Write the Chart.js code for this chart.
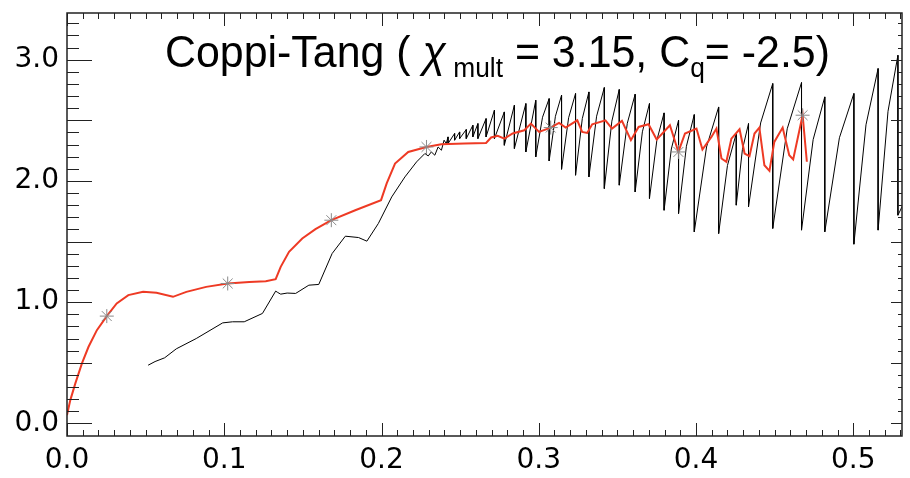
<!DOCTYPE html>
<html>
<head>
<meta charset="utf-8">
<script src="https://cdn.jsdelivr.net/npm/chart.js@4"></script>
<style>
  body { margin: 0; background: #fff; }
  #wrap { width: 910px; height: 478px; position: relative; }
</style>
</head>
<body>
<div id="wrap"><canvas id="myChart"></canvas></div>
<script>
// black trace before the sawtooth phase
var rampX = [0.0516, 0.0560, 0.0621, 0.0695, 0.0822, 0.0990, 0.1053, 0.1127, 0.1243, 0.1327, 0.1340, 0.1359, 0.1400, 0.1454,
  0.1538, 0.1601, 0.1686, 0.1770, 0.1854, 0.1907, 0.1980, 0.2065, 0.2149, 0.2223, 0.2276, 0.2297, 0.2317, 0.2339, 0.2360,
  0.2381, 0.2398, 0.2412];
var rampY = [0.48, 0.51, 0.541, 0.615, 0.70, 0.829, 0.838, 0.838, 0.907, 1.091, 1.08, 1.066, 1.075, 1.072,
  1.14, 1.146, 1.401, 1.544, 1.533, 1.503, 1.649, 1.868, 2.033, 2.157, 2.226, 2.206, 2.239, 2.212, 2.280,
  2.253, 2.336, 2.308];

// sawtooth crashes: time, value just before, value just after
var crashX = [0.2423, 0.2465, 0.2497, 0.2539, 0.2581, 0.2613, 0.2665, 0.2718, 0.2781, 0.2845, 0.2918, 0.2981,
  0.3066, 0.3145, 0.3234, 0.3319, 0.3417, 0.3512, 0.3613, 0.3704, 0.3797, 0.3889, 0.3989,
  0.4144, 0.4256, 0.4334, 0.4488, 0.4671, 0.4819, 0.5004, 0.5158, 0.5284];
var crashPeak = [2.363, 2.391, 2.404, 2.424, 2.459, 2.473, 2.514, 2.583, 2.569, 2.624, 2.638, 2.665,
  2.679, 2.707, 2.721, 2.734, 2.770, 2.754, 2.715, 2.638, 2.561, 2.500, 2.547,
  2.610, 2.391, 2.473, 2.803, 2.811, 2.693, 2.721, 2.927, 3.036];
var crashTrough = [2.308, 2.336, 2.349, 2.349, 2.363, 2.349, 2.363, 2.349, 2.294, 2.267, 2.239, 2.198,
  2.165, 2.096, 2.047, 2.033, 1.937, 1.965, 1.909, 1.855, 1.758, 1.731, 1.580,
  1.566, 1.800, 1.786, 1.608, 1.594, 1.580, 1.478, 1.594, 1.717];
// one read-off point half way up each larger ramp (null = none)
var riseX = [null, null, null, null, null, null, null, null, null, null, null, null,
  0.3024, 0.3106, 0.3190, 0.3277, 0.3368, 0.3465, 0.3563, 0.3659, 0.3751, 0.3843, 0.3939,
  0.4067, 0.4200, 0.4295, 0.4411, 0.4580, 0.4745, 0.4912, 0.5081, 0.5221];
var riseY = [null, null, null, null, null, null, null, null, null, null, null, null,
  2.525, 2.533, 2.521, 2.514, 2.534, 2.493, 2.475, 2.405, 2.335, 2.263, 2.286,
  2.280, 2.127, 2.258, 2.478, 2.430, 2.341, 2.356, 2.463, 2.574];
var tailX = [0.5315];
var tailY = [1.80];

// red model curve
var redX = [0.0, 0.0021, 0.0053, 0.0095, 0.0137, 0.019, 0.0253, 0.0316, 0.039, 0.0484, 0.0569, 0.0674, 0.0759, 0.0885,
  0.1022, 0.1159, 0.1264, 0.1327, 0.1359, 0.1412, 0.1496, 0.158, 0.1681, 0.1833, 0.1997, 0.2033, 0.2086, 0.217,
  0.2286, 0.238, 0.2528, 0.2665, 0.2697, 0.2739, 0.2781, 0.2834, 0.2908, 0.295, 0.3002, 0.3076, 0.3129, 0.3171,
  0.3245, 0.3276, 0.3308, 0.334, 0.3424, 0.3466, 0.3529, 0.3586, 0.3635, 0.3698, 0.375, 0.3834, 0.3888, 0.393,
  0.4003, 0.4041, 0.4098, 0.413, 0.4162, 0.4193, 0.4225, 0.4277, 0.4309, 0.434, 0.4372, 0.4403, 0.4435, 0.4467,
  0.4498, 0.4551, 0.4593, 0.4618, 0.4678, 0.4705];
var redY = [0.068, 0.192, 0.330, 0.495, 0.632, 0.769, 0.885, 0.989, 1.058, 1.085, 1.077, 1.044, 1.085, 1.126,
  1.154, 1.167, 1.173, 1.190, 1.291, 1.415, 1.525, 1.602, 1.676, 1.758, 1.841, 1.979, 2.143, 2.239,
  2.280, 2.303, 2.308, 2.313, 2.358, 2.372, 2.349, 2.391, 2.418, 2.473, 2.404, 2.44, 2.478, 2.44,
  2.5, 2.404, 2.396, 2.467, 2.5, 2.432, 2.495, 2.336, 2.445, 2.467, 2.341, 2.459, 2.239, 2.391,
  2.432, 2.259, 2.363, 2.432, 2.185, 2.158, 2.349, 2.426, 2.226, 2.204, 2.391, 2.44, 2.129, 2.083,
  2.322, 2.44, 2.212, 2.177, 2.542, 2.158];

// asterisk markers on the red curve
var markX = [0.0253, 0.1022, 0.1681, 0.2286, 0.3076, 0.3888, 0.4678];
var markY = [0.885, 1.154, 1.676, 2.280, 2.44, 2.239, 2.542];

var titleParts = [
  { t: 'Coppi-Tang ( ', f: '44px "Liberation Sans"', dy: 0 },
  { t: '\u03C7', f: 'italic 44px "Liberation Sans"', dy: 0 },
  { t: ' mult', f: '27px "Liberation Sans"', dy: 10 },
  { t: ' = 3.15, C', f: '44px "Liberation Sans"', dy: 0 },
  { t: 'q', f: '27px "Liberation Sans"', dy: 10 },
  { t: '= -2.5)', f: '44px "Liberation Sans"', dy: 0 }
];

var blackData = [];
for (var i = 0; i < rampX.length; i++) blackData.push({ x: rampX[i], y: rampY[i] });
for (var i = 0; i < crashX.length; i++) {
  if (riseX[i] !== null) blackData.push({ x: riseX[i], y: riseY[i] });
  blackData.push({ x: crashX[i], y: crashPeak[i] });
  blackData.push({ x: crashX[i], y: crashTrough[i] });
}
for (var i = 0; i < tailX.length; i++) blackData.push({ x: tailX[i], y: tailY[i] });

var redData = redX.map(function (v, i) { return { x: v, y: redY[i] }; });
var markData = markX.map(function (v, i) { return { x: v, y: markY[i] }; });

var frame = {
  id: 'frame',
  afterDatasetsDraw: function (chart) {
    var ctx = chart.ctx, a = chart.chartArea, x = chart.scales.x, y = chart.scales.y;
    ctx.save();
    ctx.strokeStyle = '#222';
    ctx.lineWidth = 1;
    ctx.beginPath();
    for (var i = -1; i <= 33; i++) {
      var py = Math.round(y.getPixelForValue(i / 10)) + 0.5;
      if (py < a.top || py > a.bottom) continue;
      var big = i % 5 === 0;
      ctx.moveTo(a.left, py); ctx.lineTo(a.left + (big ? 25 : 12), py);
      ctx.moveTo(a.right, py); ctx.lineTo(a.right - (big ? 11 : 4), py);
    }
    for (var j = 0; j <= 53; j++) {
      var px = Math.round(x.getPixelForValue(j / 100)) + 0.5;
      var bigx = j % 10 === 0;
      ctx.moveTo(px, a.bottom); ctx.lineTo(px, a.bottom - (bigx ? 13 : 6));
      ctx.moveTo(px, a.top); ctx.lineTo(px, a.top + (bigx ? 13 : 6));
    }
    ctx.stroke();
    ctx.lineWidth = 1.5;
    ctx.strokeRect(a.left, a.top, a.right - a.left, a.bottom - a.top);
    ctx.restore();
  },
  afterDraw: function (chart) {
    var ctx = chart.ctx;
    ctx.save();
    var total = 0;
    titleParts.forEach(function (p) { ctx.font = p.f; total += ctx.measureText(p.t).width; });
    var sx = 665 / total;
    ctx.translate(165, 66.5);
    ctx.scale(sx, 1);
    ctx.fillStyle = '#000';
    ctx.textBaseline = 'alphabetic';
    var cx = 0;
    titleParts.forEach(function (p) {
      ctx.font = p.f;
      ctx.fillText(p.t, cx, p.dy);
      cx += ctx.measureText(p.t).width;
    });
    ctx.restore();
  }
};

var tickFont = { family: '"DejaVu Sans"', size: 28 };

var ctx = document.getElementById('myChart');
var CrashChart = new Chart(ctx, {
  type: 'line',
  data: {
    datasets: [
      { data: markData, showLine: false, pointStyle: 'star', pointRadius: 7, borderColor: '#8a8a8a',
        backgroundColor: '#8a8a8a', pointBorderWidth: 1, order: 0 },
      { data: redData, borderColor: 'rgb(238,58,36)', borderWidth: 2, pointRadius: 0, tension: 0, order: 1 },
      { data: blackData, borderColor: '#000', borderWidth: 1, pointRadius: 0, tension: 0, order: 2 }
    ]
  },
  options: {
    responsive: true,
    maintainAspectRatio: false,
    animation: false,
    layout: { padding: { top: 13, right: 3, left: 0, bottom: 0 } },
    plugins: { legend: { display: false }, tooltip: { enabled: false }, title: { display: false } },
    scales: {
      x: {
        type: 'linear', min: 0, max: 0.531,
        grid: { display: false }, border: { display: false },
        ticks: { stepSize: 0.1, includeBounds: false, autoSkip: false, maxRotation: 0, color: '#000', font: tickFont,
          padding: 0, callback: function (v) { return v.toFixed(1); } },
        afterFit: function (s) { s.height = 42; s.paddingLeft = 0; s.paddingRight = 0; }
      },
      y: {
        type: 'linear', min: -0.104, max: 3.385,
        grid: { display: false }, border: { display: false },
        ticks: { stepSize: 1, includeBounds: false, color: '#000', font: tickFont,
          padding: 0, callback: function (v) { return v.toFixed(1); } },
        afterFit: function (s) { s.width = 67; s.paddingTop = 0; s.paddingBottom = 0; }
      }
    }
  },
  plugins: [frame]
});
</script>
</body>
</html>
